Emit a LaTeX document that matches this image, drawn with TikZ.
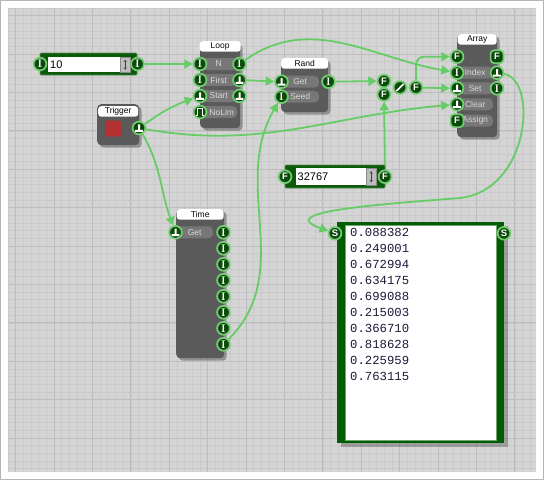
\documentclass[tikz,border=0pt]{standalone}
\usepackage{fontspec}
\setsansfont{Liberation Sans}
\newfontfamily\monofont{Liberation Mono}
\usepackage{xcolor}
\definecolor{cGridBg}{HTML}{D4D4D4}
\definecolor{cGridMinor}{HTML}{C9C9C9}
\definecolor{cGridMajor}{HTML}{BDBDBD}
\definecolor{cFrame}{HTML}{B4B4B4}
\definecolor{cBody}{HTML}{5A5A5A}
\definecolor{cPill}{HTML}{777777}
\definecolor{cPillText}{HTML}{DADADA}
\definecolor{cPort}{HTML}{0B4A0B}
\definecolor{cRing}{HTML}{74CC74}
\definecolor{cWire}{HTML}{66CC66}
\definecolor{cNum}{HTML}{0A5A0A}
\definecolor{cSpin}{HTML}{BDBDBD}
\definecolor{cSpinEdge}{HTML}{8A8A8A}
\definecolor{cDisp}{HTML}{005C00}
\definecolor{cButton}{HTML}{B23030}
\definecolor{cText}{HTML}{1A1A3A}
\usepackage{tikz}
\usetikzlibrary{positioning,arrows.meta,shadows,backgrounds}
\tikzset{
  grid-minor/.style={draw=cGridMinor,line width=0.7pt},
  grid-major/.style={draw=cGridMajor,line width=0.9pt},
  node-body/.style={fill=cBody,rounded corners=4pt,inner sep=0pt,anchor=north west,
    drop shadow={shadow xshift=2.5pt,shadow yshift=-2.5pt,opacity=0.3,fill=black}},
  node-tab/.style={fill=white,rounded corners=3pt,inner sep=0pt,anchor=north,
    minimum height=10.5pt,font=\fontsize{8.5}{9}\selectfont\sffamily},
  node-pill/.style={fill=cPill,rounded corners=5pt,inner sep=0pt,anchor=west,
    minimum width=37pt,minimum height=12pt,text=cPillText,
    font=\fontsize{8.5}{9}\selectfont\sffamily},
  % 端口：I 整数 / F 浮点 / S 字符串 / T 触发 / P 脉冲
  port/.style={circle,draw=cRing,line width=1.7pt,fill=cPort,minimum size=12.8pt,
    inner sep=0pt,text=white},
  port-i/.style={port,font=\fontsize{11}{11}\selectfont\bfseries\rmfamily},
  port-f/.style={port,font=\fontsize{9.5}{9.5}\selectfont\bfseries\sffamily},
  port-s/.style={port-f},
  port-fa/.style={port-f,rectangle,rounded corners=3.5pt},
  port-t/.style={port,path picture={\fill[white,shift={(path picture bounding box.center)}]
      (-3.9pt,-3.8pt) rectangle (3.9pt,-1.9pt) (-1pt,-1.9pt) rectangle (1pt,3.6pt);}},
  port-p/.style={port,path picture={\draw[white,line width=1.2pt,shift={(path picture bounding box.center)}]
      (-4.5pt,-3.2pt) -- (-2.2pt,-3.2pt) -- (-2.2pt,3.2pt) -- (2.2pt,3.2pt) -- (2.2pt,-3.2pt) -- (4.5pt,-3.2pt);}},
  port-div/.style={port,path picture={\draw[white,line width=1.7pt,line cap=round,
      shift={(path picture bounding box.center)}] (-3.2pt,-3.2pt) -- (3.2pt,3.2pt);}},
  num-box/.style={fill=cNum,draw=cNum!70!white,line width=0.6pt,rounded corners=1pt,inner sep=0pt},
  num-field/.style={fill=white,inner sep=0pt,anchor=north west},
  num-spin/.style={fill=cSpin,draw=cSpinEdge,line width=0.5pt,inner sep=0pt,anchor=north east,
    minimum width=10pt},
  num-text/.style={anchor=west,inner sep=0pt,font=\fontsize{11}{11}\selectfont\sffamily},
  spin-arrow/.style={{Stealth[length=2.2pt,width=3pt]}-{Stealth[length=2.2pt,width=3pt]},
    line width=0.6pt,draw=black!75},
  disp-frame/.style={fill=cDisp,inner sep=0pt,anchor=north west,
    drop shadow={shadow xshift=3.5pt,shadow yshift=-3.5pt,opacity=0.25,fill=black}},
  disp-area/.style={fill=white,draw=cDisp!55!white,line width=0.6pt,inner sep=0pt,anchor=north west},
  disp-text/.style={anchor=north west,inner sep=0pt,align=left,text=cText,
    font=\fontsize{12.3}{15.9}\selectfont\monofont},
  arrow-wire/.style={-{Triangle[length=8.5pt,width=9pt]},line width=1.8pt,draw=cWire},
}

\begin{document}
\begin{tikzpicture}[x=1pt,y=1pt]
  \useasboundingbox (0,0) rectangle (544,-480);
  % 画布与网格
  \begin{pgfonlayer}{background}
    \fill[white] (0,0) rectangle (544,-480);
    \draw[cFrame] (0.5,-0.5) rectangle (543.5,-479.5);
    \fill[cGridBg] (8,-8) rectangle (536,-472);
    \foreach \gx in {0,...,68} \draw[grid-minor] ({8+7.68*\gx},-8) -- ({8+7.68*\gx},-472);
    \foreach \gy in {0,...,60} \draw[grid-minor] (8,{-8-7.68*\gy}) -- (536,{-8-7.68*\gy});
    \foreach \gx in {0,...,13} \draw[grid-major] ({15.68+38.4*\gx},-8) -- ({15.68+38.4*\gx},-472);
    \foreach \gy in {0,...,11} \draw[grid-major] (8,{-15.68-38.4*\gy}) -- (536,{-15.68-38.4*\gy});
  \end{pgfonlayer}

  % 数字输入 10
  \node[num-box,minimum width=97pt,minimum height=22pt] (num-ten) at (88.5,-64) {};
  \node[num-field,minimum width=82pt,minimum height=15pt] (num-ten-field) at (48,-57) {};
  \node[num-spin,minimum height=15pt] (num-ten-spin) at (num-ten-field.north east) {};
  \draw[spin-arrow] ([yshift=-5pt]num-ten-spin.center) -- ([yshift=5pt]num-ten-spin.center);
  \node[num-text] (num-ten-val) at (50,-64.5) {10};
  \node[port-i] (num-ten-in) at (40,-64) {I};
  \node[port-i] (num-ten-out) at (137.5,-64) {I};

  % Trigger
  \node[node-body,minimum width=42pt,minimum height=41pt] (trig) at (97,-104) {};
  \node[node-tab,minimum width=40pt] (trig-tab) at ([yshift=-2pt]trig.north) {Trigger};
  \node[fill=cButton,rounded corners=1.5pt,minimum size=16pt,inner sep=0pt] (trig-button) at (113,-128.5) {};
  \node[port-t] (trig-out) at (139,-128) {};

  % Loop
  \node[node-body,minimum width=40pt,minimum height=86pt] (loop) at (200,-42) {};
  \node[node-tab,minimum width=41pt] (loop-tab) at ([yshift=1pt]loop.north) {Loop};
  \node[node-pill] (loop-n-lbl) at (200,-64) {N};
  \node[node-pill] (loop-first-lbl) at (200,-80) {First};
  \node[node-pill] (loop-start-lbl) at (200,-96) {Start};
  \node[node-pill] (loop-nolim-lbl) at (200,-112) {\hspace*{6pt}NoLim};
  \node[port-i] (loop-n-in) at (200,-64) {I};
  \node[port-i] (loop-first-in) at (200,-80) {I};
  \node[port-t] (loop-start-in) at (200,-96) {};
  \node[port-p] (loop-nolim-in) at (200,-112) {};
  \node[port-i] (loop-n-out) at (239.5,-64) {I};
  \node[port-t] (loop-first-out) at (239.5,-80) {};
  \node[port-t] (loop-start-out) at (239.5,-96) {};

  % Rand
  \node[node-body,minimum width=47pt,minimum height=54pt] (rand) at (281,-58) {};
  \node[node-tab,minimum width=47pt] (rand-tab) at (rand.north) {Rand};
  \node[node-pill,minimum width=38pt] (rand-get-lbl) at (281,-81.7) {Get};
  \node[node-pill,minimum width=38pt] (rand-seed-lbl) at (281,-96.7) {Seed};
  \node[port-t] (rand-get-in) at (281.5,-81.7) {};
  \node[port-i] (rand-seed-in) at (281.5,-96.7) {I};
  \node[port-i] (rand-get-out) at (328.5,-81.7) {I};

  % 除法
  \node[port-f] (div-a) at (384,-81) {F};
  \node[port-f] (div-b) at (384,-94.5) {F};
  \node[port-div] (div-op) at (400,-87.5) {};
  \node[port-f] (div-out) at (416,-87.5) {F};

  % Array
  \node[node-body,minimum width=40pt,minimum height=103pt] (arr) at (457,-34) {};
  \node[node-tab,minimum width=39pt] (arr-tab) at (arr.north) {Array};
  \node[node-pill,minimum width=36pt] (arr-index-lbl) at (457,-72.7) {Index};
  \node[node-pill,minimum width=36pt] (arr-set-lbl) at (457,-88.3) {Set};
  \node[node-pill,minimum width=36pt] (arr-clear-lbl) at (457,-104.3) {Clear};
  \node[node-pill,minimum width=36pt] (arr-assign-lbl) at (457,-120.7) {Assign};
  \node[port-f] (arr-f-in) at (457,-56.7) {F};
  \node[port-i] (arr-index-in) at (457,-72.7) {I};
  \node[port-t] (arr-set-in) at (457,-88.3) {};
  \node[port-t] (arr-clear-in) at (457,-104.3) {};
  \node[port-fa] (arr-assign-in) at (457,-120.7) {F};
  \node[port-fa] (arr-f-out) at (497,-56.7) {F};
  \node[port-t] (arr-index-out) at (497,-72.7) {};
  \node[port-i] (arr-set-out) at (497,-88.3) {I};

  % 数字输入 32767
  \node[num-box,minimum width=100pt,minimum height=23pt] (num-max) at (335,-176.5) {};
  \node[num-field,minimum width=80pt,minimum height=17pt] (num-max-field) at (296,-168) {};
  \node[num-spin,minimum height=17pt] (num-max-spin) at (num-max-field.north east) {};
  \draw[spin-arrow] ([yshift=-5.5pt]num-max-spin.center) -- ([yshift=5.5pt]num-max-spin.center);
  \node[num-text] (num-max-val) at (297.5,-177) {32767};
  \node[port-f] (num-max-in) at (285,-176.7) {F};
  \node[port-f] (num-max-out) at (385,-176.7) {F};

  % Time
  \node[node-body,minimum width=48pt,minimum height=149pt] (time) at (176,-209) {};
  \node[node-tab,minimum width=47pt] (time-tab) at (time.north) {Time};
  \node[node-pill] (time-get-lbl) at (176,-232.3) {Get};
  \node[port-t] (time-get-in) at (175.5,-232.3) {};
  \foreach \k in {1,...,8}
    \node[port-i] (time-out-\k) at (223.5,{-216.3-16*\k}) {I};

  % 文本显示
  \node[disp-frame,minimum width=167pt,minimum height=221pt] (disp) at (337,-222) {};
  \node[disp-area,minimum width=151pt,minimum height=215pt] (disp-area) at (345,-225) {};
  \node[disp-text] (disp-text) at (350,-228.5) {0.088382\\0.249001\\0.672994\\0.634175\\0.699088\\%
    0.215003\\0.366710\\0.818628\\0.225959\\0.763115};
  \node[port-s] (disp-in) at (335,-233.3) {S};
  \node[port-s] (disp-out) at (504,-233.3) {S};

  % 连线
  \begin{pgfonlayer}{background}
    \draw[arrow-wire] (num-ten-out) -- (loop-n-in);
    \draw[arrow-wire] (trig-out) to[out=35,in=200] (loop-start-in);
    \draw[arrow-wire] (trig-out) to[out=-60,in=110] (time-get-in);
    \draw[arrow-wire] (trig-out) to[out=-10,in=185] (arr-clear-in);
    \draw[arrow-wire] (loop-first-out) -- (rand-get-in);
    \draw[arrow-wire] (loop-n-out) to[out=35,in=170] (arr-index-in);
    \draw[arrow-wire] (rand-get-out) -- (div-a);
    \draw[arrow-wire] (num-max-out) -- (div-b);
    \draw[arrow-wire,rounded corners=8pt] (div-out) |- (arr-f-in);
    \draw[arrow-wire] (div-out) -- (arr-set-in);
    \draw[arrow-wire] (time-out-8) to[out=45,in=240] (rand-seed-in);
    \draw[arrow-wire] (arr-index-out) .. controls (538,-80) and (530,-190) .. (460,-198)
      .. controls (370,-205) and (275,-212) .. (disp-in);
  \end{pgfonlayer}
\end{tikzpicture}
\end{document}
